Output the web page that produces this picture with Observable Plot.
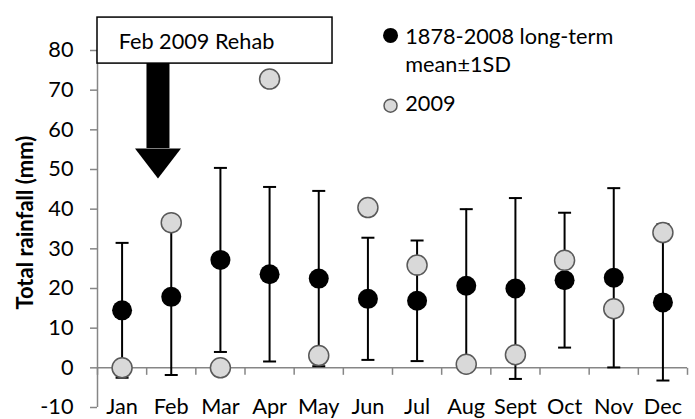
<!DOCTYPE html>
<html>
<head>
<meta charset="utf-8">
<script src="https://cdn.jsdelivr.net/npm/d3@7"></script>
<script src="https://cdn.jsdelivr.net/npm/@observablehq/plot@0.6"></script>
<style>
  html, body { margin: 0; padding: 0; background: #fff; }
  #chart svg { display: block; }
</style>
</head>
<body>
<div id="chart"></div>
<script>
const months = ["Jan","Feb","Mar","Apr","May","Jun","Jul","Aug","Sept","Oct","Nov","Dec"];
const meanRain = [14.5, 17.9, 27.2, 23.6, 22.5, 17.4, 16.9, 20.7, 20.0, 22.1, 22.7, 16.5];
const sdRain   = [17.0, 19.7, 23.2, 22.0, 22.1, 15.4, 15.2, 19.3, 22.8, 17.0, 22.6, 19.7];
const rain2009 = [0, 36.6, 0, 72.8, 3.1, 40.4, 25.9, 0.9, 3.3, 27.1, 14.9, 34.1];
const yTicks = [-10, 0, 10, 20, 30, 40, 50, 60, 70, 80];
const legendLabels = ["1878-2008 long-term", "mean±1SD", "2009"];
const annotationText = "Feb 2009 Rehab";
const yTitle = "Total rainfall (mm)";

const data = months.map((m, i) => ({
  i, month: m, mean: meanRain[i], sd: sdRain[i], y2009: rain2009[i]
}));
const boundaries = d3.range(months.length + 1).map(k => k - 0.5);

const grey = "#868686";
const fs = 21.7;
const hCap = { draw(ctx) { ctx.moveTo(-6.5, 0); ctx.lineTo(6.5, 0); } };
const vTick = { draw(ctx) { ctx.moveTo(0, 0); ctx.lineTo(0, 7); } };
const arrowHead = { draw(ctx) { ctx.moveTo(-23, 0); ctx.lineTo(23, 0); ctx.lineTo(0, 30); ctx.closePath(); } };

const chart = Plot.plot({
  width: 695,
  height: 419,
  marginLeft: 97,
  marginRight: 8,
  marginTop: 50,
  marginBottom: 12,
  x: { domain: [-0.5, 11.5], axis: null },
  y: { domain: [-10, 80], axis: null },
  style: { fontFamily: "Lato, 'Open Sans', sans-serif", fontSize: fs + "px", color: "#000", background: "#fff" },
  marks: [
    Plot.ruleX([-0.5], { y1: -10, y2: 80, stroke: grey, strokeWidth: 1.5 }),
    Plot.axisY({ ticks: yTicks, tickSize: 7, text: null, stroke: grey, strokeWidth: 1.5, label: null }),
    Plot.axisY({ ticks: yTicks, tickSize: 0, tickPadding: 24, tickFormat: d => String(d), fill: "#000", label: null, fontSize: fs }),
    Plot.ruleY([0], { x1: -0.5, x2: 11.5, stroke: grey, strokeWidth: 1.5 }),
    Plot.dot(boundaries, { x: d => d, y: 0, symbol: vTick, r: 1, stroke: grey, strokeWidth: 1.5, fill: "none" }),
    Plot.text(data, { x: "i", y: -10, text: "month", fill: "#000", fontSize: fs }),
    Plot.ruleX(data, { x: "i", y1: d => d.mean - d.sd, y2: d => d.mean + d.sd, stroke: "#000", strokeWidth: 2 }),
    Plot.dot(data, { x: "i", y: d => d.mean - d.sd, symbol: hCap, r: 1, stroke: "#000", strokeWidth: 2, fill: "none" }),
    Plot.dot(data, { x: "i", y: d => d.mean + d.sd, symbol: hCap, r: 1, stroke: "#000", strokeWidth: 2, fill: "none" }),
    Plot.dot(data, { x: "i", y: "mean", r: 10, fill: "#000", stroke: "none" }),
    Plot.dot(data, { x: "i", y: "y2009", r: 10, fill: "#d9d9d9", stroke: "#595959", strokeWidth: 1.5 }),
    Plot.rect([0], { x1: -0.5, x2: 4.28, y1: 76.7, y2: 88.3, fill: "#fff", stroke: "#000", strokeWidth: 1.5 }),
    Plot.text([annotationText], { x: -0.07, y: 82.2, text: d => d, textAnchor: "start", fill: "#000", fontSize: fs }),
    Plot.ruleX([0.73], { y1: 76.7, y2: 55.3, stroke: "#000", strokeWidth: 23 }),
    Plot.dot([0.73], { x: d => d, y: 55.3, symbol: arrowHead, r: 1, fill: "#000", stroke: "none" }),
    Plot.dot([0], { x: 5.46, y: 83.8, r: 7.5, fill: "#000", stroke: "none" }),
    Plot.text([legendLabels[0]], { x: 5.76, y: 83.5, text: d => d, textAnchor: "start", fill: "#000", fontSize: fs }),
    Plot.text([legendLabels[1]], { x: 5.76, y: 76.3, text: d => d, textAnchor: "start", fill: "#000", fontSize: fs }),
    Plot.dot([0], { x: 5.46, y: 66.1, r: 6.5, fill: "#d9d9d9", stroke: "#595959", strokeWidth: 1.5 }),
    Plot.text([legendLabels[2]], { x: 5.76, y: 66.6, text: d => d, textAnchor: "start", fill: "#000", fontSize: fs }),
    Plot.text([yTitle], { x: -0.5, y: 36.6, dx: -72, rotate: -90, text: d => d, fontWeight: "bold", fill: "#000", fontSize: 22 })
  ]
});
document.getElementById("chart").appendChild(chart);
</script>
</body>
</html>
